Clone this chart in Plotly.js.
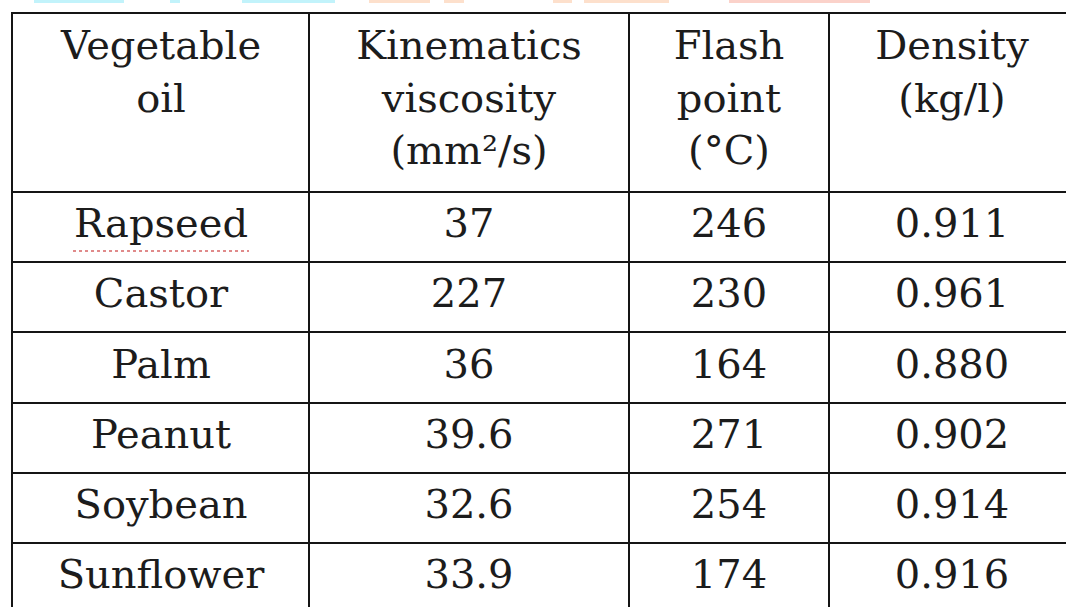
<!DOCTYPE html>
<html>
<head>
<meta charset="utf-8">
<script src="https://cdn.plot.ly/plotly-3.0.1.min.js"></script>
<style>
  html, body { margin: 0; padding: 0; overflow: hidden; background: #ffffff; }
  #chart { width: 1080px; height: 625px; }
</style>
</head>
<body>
<div id="chart"></div>
<script>
// ---- data ----
var headerLines = [
  ["Vegetable", "oil"],
  ["Kinematics", "viscosity", "(mm²/s)"],
  ["Flash", "point", "(°C)"],
  ["Density", "(kg/l)"]
];
var oils = ["Rapseed", "Castor", "Palm", "Peanut", "Soybean", "Sunflower"];
var viscosity = ["37", "227", "36", "39.6", "32.6", "33.9"];
var flashPoint = ["246", "230", "164", "271", "254", "174"];
var density = ["0.911", "0.961", "0.880", "0.902", "0.914", "0.916"];

// ---- geometry (pixels) ----
var W = 1080, H = 625;
var tableLeft = 13, tableTop = 14;
var colWidths = [296, 320, 200, 246];
var headerHeight = 178;
var rowHeight = 70.2;
var headerFirstLine = 35;   // centre of first header line, from table top
var headerLineGap = 52.5;

var colBounds = [0];
colWidths.forEach(function (w, i) { colBounds.push(colBounds[i] + w); });
var colCenters = colWidths.map(function (w, i) { return colBounds[i] + w / 2; });
var rowBounds = [headerHeight];
oils.forEach(function (o, i) { rowBounds.push(headerHeight + (i + 1) * rowHeight); });
var rowCenters = oils.map(function (o, i) { return headerHeight + (i + 0.5) * rowHeight; });

var font = { family: "DejaVu Serif, Liberation Serif, serif", size: 40, color: "#1c1c1c" };

// header text trace
var hx = [], hy = [], ht = [];
headerLines.forEach(function (lines, c) {
  lines.forEach(function (line, k) {
    hx.push(colCenters[c]);
    hy.push(headerFirstLine + k * headerLineGap);
    ht.push(line);
  });
});

// body text trace
var columns = [oils, viscosity, flashPoint, density];
var bx = [], by = [], bt = [];
columns.forEach(function (col, c) {
  col.forEach(function (v, r) {
    bx.push(colCenters[c]);
    by.push(rowCenters[r]);
    bt.push(v);
  });
});

var traces = [
  { type: "scatter", mode: "text", x: hx, y: hy, text: ht,
    textposition: "middle center", textfont: font, hoverinfo: "skip", cliponaxis: false },
  { type: "scatter", mode: "text", x: bx, y: by, text: bt,
    textposition: "middle center", textfont: font, hoverinfo: "skip", cliponaxis: false }
];

// faint coloured fragments along the very top edge (remnant of an upper row)
var strips = [
  [34, 124, "#c2f3fb"], [170, 180, "#c2f3fb"], [242, 335, "#c2f3fb"],
  [369, 430, "#fde0cc"], [444, 464, "#fde0cc"], [553, 572, "#fde0cc"], [584, 669, "#fde0cc"],
  [729, 870, "#fbd2ca"]
];
var shapes = strips.map(function (s) {
  return {
    type: "rect", xref: "paper", yref: "paper",
    x0: s[0] / W, x1: s[1] / W, y0: 1 - 3 / H, y1: 1,
    fillcolor: s[2], line: { width: 0 }, layer: "above"
  };
});
// spell-check squiggle under the first oil name
shapes.push({
  type: "line", xref: "x", yref: "y",
  x0: colCenters[0] - 88, x1: colCenters[0] + 88,
  y0: rowCenters[0] + 24, y1: rowCenters[0] + 24,
  line: { color: "#e08a8a", width: 2, dash: "dot" }
});

var axisCommon = {
  showticklabels: false, ticks: "", zeroline: false,
  showgrid: true, gridcolor: "#151515", gridwidth: 2,
  showline: true, mirror: true, linecolor: "#151515", linewidth: 2,
  fixedrange: true, tickmode: "array"
};

var layout = {
  width: W, height: H,
  margin: { l: 0, r: 0, t: 0, b: 0 },
  paper_bgcolor: "#ffffff",
  plot_bgcolor: "#ffffff",
  showlegend: false,
  xaxis: Object.assign({}, axisCommon, {
    domain: [tableLeft / W, 1],
    range: [0, W - tableLeft],
    tickvals: colBounds.slice(1, colBounds.length - 1)
  }),
  yaxis: Object.assign({}, axisCommon, {
    domain: [0, 1 - tableTop / H],
    range: [H - tableTop, 0],
    tickvals: rowBounds
  }),
  shapes: shapes
};

Plotly.newPlot("chart", traces, layout, { displayModeBar: false, staticPlot: true });
</script>
</body>
</html>
